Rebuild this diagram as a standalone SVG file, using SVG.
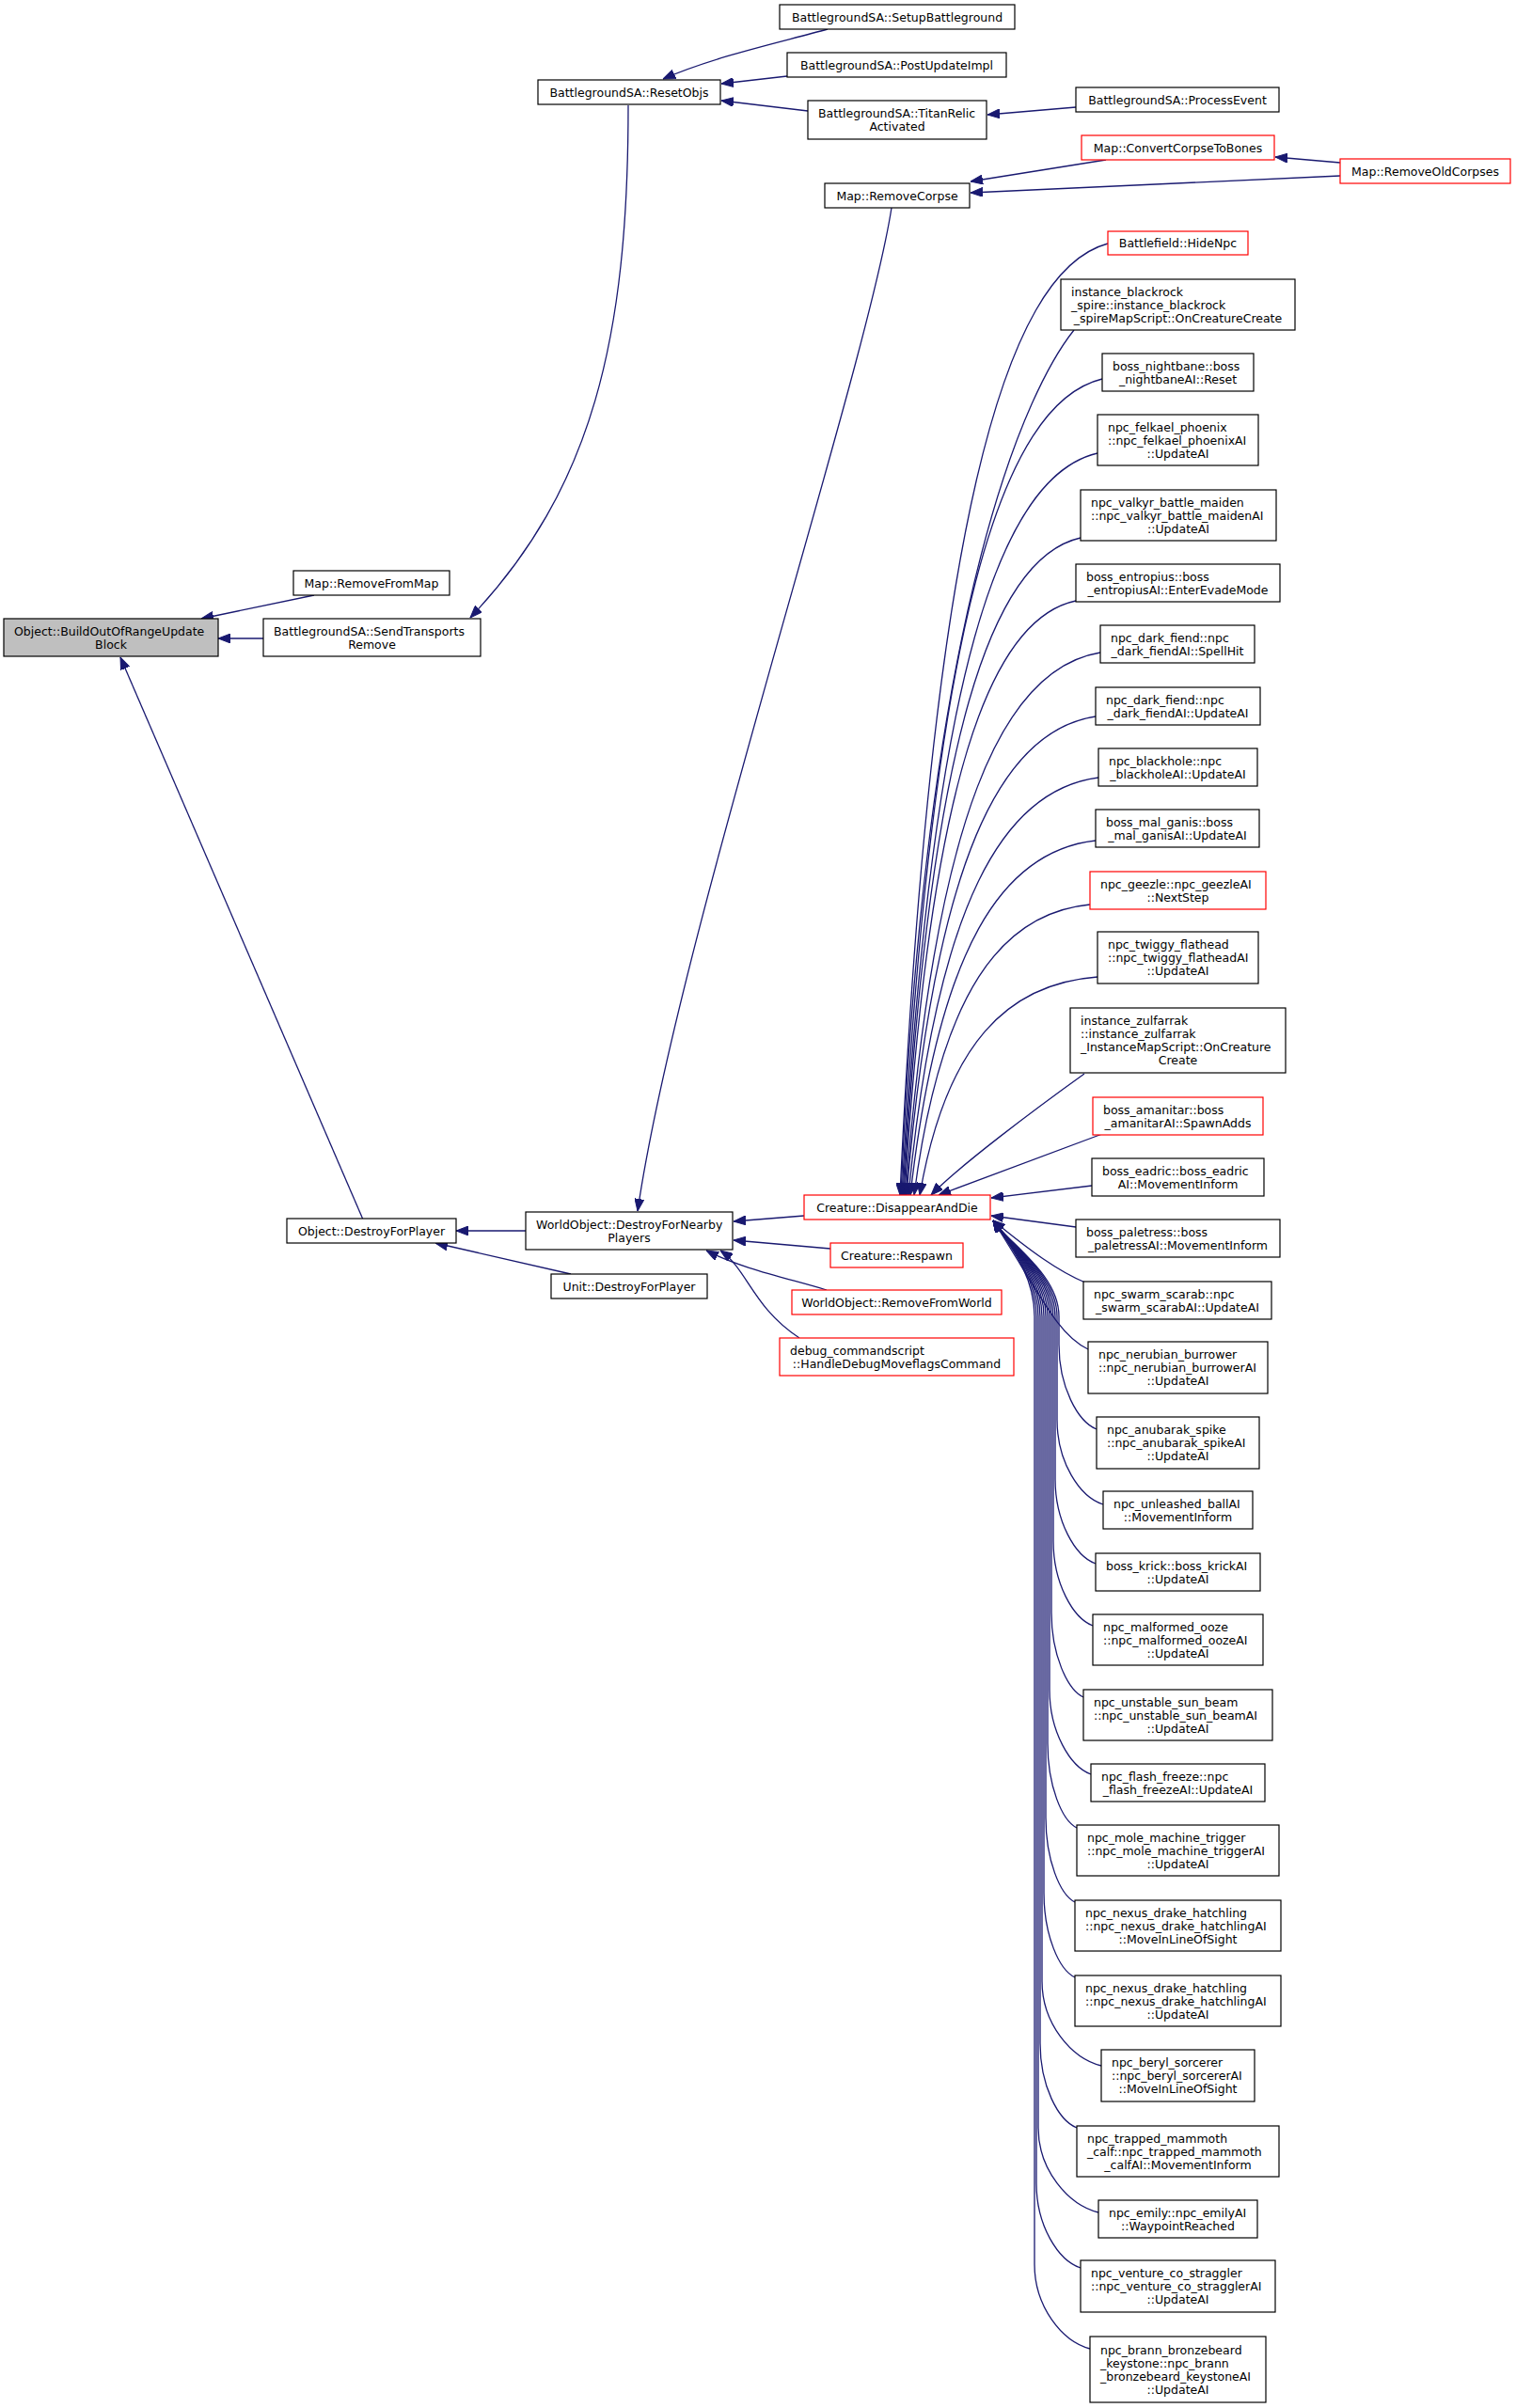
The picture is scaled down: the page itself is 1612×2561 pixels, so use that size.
<svg xmlns="http://www.w3.org/2000/svg" width="1612" height="2561" viewBox="0 0 1612 2561">
<style>
.n rect{fill:#fff;stroke:#000;stroke-width:1.2}
.r rect{stroke:#f00}
.g rect{fill:#bfbfbf}
text{font-family:"DejaVu Sans","Liberation Sans",sans-serif;font-size:12.5px;fill:#000}
.m{text-anchor:middle}
#edges path{fill:none;stroke:#191970;stroke-width:1.3;marker-end:url(#ah)}
</style>
<defs>
<marker id="ah" markerUnits="userSpaceOnUse" markerWidth="13" markerHeight="10" refX="13" refY="5" orient="auto"><path d="M0,0 L13,5 L0,10 z" fill="#191970" stroke="#191970" stroke-width="1"/></marker>
</defs>
<rect width="1612" height="2561" fill="#fff"/>
<g id="edges">
<path d="M334,633 L214,658"/>
<path d="M280,679 L232,679"/>
<path d="M668,112 C668,360 630,520 500,657"/>
<path d="M386,1297 L128,699"/>
<path d="M559,1309 L485,1309"/>
<path d="M607,1355 L463,1322"/>
<path d="M948,221 C920,400 720,1000 678,1288"/>
<path d="M855,1293 L780,1299"/>
<path d="M883,1328 L780,1319"/>
<path d="M879,1372 C840,1360 790,1350 751,1330"/>
<path d="M850,1423 C800,1390 795,1350 766,1330"/>
<path d="M880,31 C830,45 760,60 705,84"/>
<path d="M837,81 L767,89"/>
<path d="M859,118 L767,107"/>
<path d="M1144,114 L1050,122"/>
<path d="M1176,170 L1032,193"/>
<path d="M1425,173 L1356,167"/>
<path d="M1425,187 L1032,205"/>
<path d="M1178,259 C1067,289 990,563 957,1271"/>
<path d="M1142,351 C1095,410 986,627 958,1271"/>
<path d="M1172,403 C1065,429 991,663 959,1271"/>
<path d="M1167,482 C1063,506 991,719 960,1271"/>
<path d="M1149,572 C1055,593 989,782 961,1271"/>
<path d="M1144,639 C1053,658 989,829 962,1271"/>
<path d="M1170,694 C1066,711 994,867 963,1271"/>
<path d="M1165,762 C1064,777 994,915 964,1271"/>
<path d="M1168,827 C1067,840 996,960 966,1271"/>
<path d="M1165,894 C1066,905 998,1007 968,1271"/>
<path d="M1159,962 C1065,971 1000,1055 972,1271"/>
<path d="M1167,1039 C1072,1046 1006,1109 978,1271"/>
<path d="M1153,1142 C1100,1180 1020,1240 990,1271"/>
<path d="M1172,1206 L998,1271"/>
<path d="M1161,1261 L1054,1274"/>
<path d="M1144,1305 L1054,1293"/>
<path d="M1154,1364 C1125,1352 1095,1330 1056,1298"/>
<path d="M1157,1435 C1125,1420 1108,1380 1056,1298"/>
<path d="M1166,1520 C1146,1512 1126,1475 1126,1430 L1126,1400 C1126,1355 1072,1322 1056,1298"/>
<path d="M1173,1600 C1148,1592 1124,1555 1124,1510 L1124,1400 C1124,1355 1072,1322 1056,1298"/>
<path d="M1165,1663 C1143,1655 1122,1618 1122,1573 L1122,1400 C1122,1355 1072,1322 1056,1298"/>
<path d="M1162,1729 C1141,1721 1120,1684 1120,1639 L1120,1400 C1120,1355 1072,1322 1056,1298"/>
<path d="M1152,1805 C1135,1797 1118,1760 1118,1715 L1118,1400 C1118,1355 1072,1322 1056,1298"/>
<path d="M1160,1887 C1138,1879 1116,1842 1116,1797 L1116,1400 C1116,1355 1072,1322 1056,1298"/>
<path d="M1145,1944 C1129,1936 1114,1899 1114,1854 L1114,1400 C1114,1355 1072,1322 1056,1298"/>
<path d="M1143,2023 C1127,2015 1112,1978 1112,1933 L1112,1400 C1112,1355 1072,1322 1056,1298"/>
<path d="M1143,2103 C1126,2095 1110,2058 1110,2013 L1110,1400 C1110,1355 1072,1322 1056,1298"/>
<path d="M1171,2197 C1139,2189 1108,2152 1108,2107 L1108,1400 C1108,1355 1072,1322 1056,1298"/>
<path d="M1145,2263 C1125,2255 1106,2218 1106,2173 L1106,1400 C1106,1355 1072,1322 1056,1298"/>
<path d="M1168,2353 C1136,2345 1104,2308 1104,2263 L1104,1400 C1104,1355 1072,1322 1056,1298"/>
<path d="M1149,2412 C1125,2404 1102,2367 1102,2322 L1102,1400 C1102,1355 1072,1322 1056,1298"/>
<path d="M1159,2498 C1129,2490 1100,2453 1100,2408 L1100,1400 C1100,1355 1072,1322 1056,1298"/>
</g>
<g id="n_build" class="n g"><rect x="4" y="658" width="228" height="40"/><text x="15" y="675.5">Object::BuildOutOfRangeUpdate</text><text class="m" x="118" y="689.5">Block</text></g>
<g id="n_removefrommap" class="n"><rect x="312" y="607" width="166" height="26"/><text class="m" x="395" y="624.5">Map::RemoveFromMap</text></g>
<g id="n_sendtransports" class="n"><rect x="280" y="658" width="231" height="40"/><text x="291" y="675.5">BattlegroundSA::SendTransports</text><text class="m" x="395.5" y="689.5">Remove</text></g>
<g id="n_destroyforplayer" class="n"><rect x="305" y="1296" width="180" height="26"/><text class="m" x="395" y="1313.5">Object::DestroyForPlayer</text></g>
<g id="n_destroyfornearby" class="n"><rect x="559" y="1289" width="220" height="40"/><text x="570" y="1306.5">WorldObject::DestroyForNearby</text><text class="m" x="669" y="1320.5">Players</text></g>
<g id="n_unitdestroy" class="n"><rect x="586" y="1355" width="166" height="26"/><text class="m" x="669" y="1372.5">Unit::DestroyForPlayer</text></g>
<g id="n_resetobjs" class="n"><rect x="572" y="85" width="194" height="26"/><text class="m" x="669" y="102.5">BattlegroundSA::ResetObjs</text></g>
<g id="n_setup" class="n"><rect x="829" y="5" width="250" height="26"/><text class="m" x="954" y="22.5">BattlegroundSA::SetupBattleground</text></g>
<g id="n_postupdate" class="n"><rect x="837" y="56" width="233" height="26"/><text class="m" x="953.5" y="73.5">BattlegroundSA::PostUpdateImpl</text></g>
<g id="n_titanrelic" class="n"><rect x="859" y="107" width="190" height="41"/><text x="870" y="125">BattlegroundSA::TitanRelic</text><text class="m" x="954" y="139">Activated</text></g>
<g id="n_processevent" class="n"><rect x="1144" y="93" width="216" height="26"/><text class="m" x="1252" y="110.5">BattlegroundSA::ProcessEvent</text></g>
<g id="n_convertcorpse" class="n r"><rect x="1150" y="144" width="205" height="26"/><text class="m" x="1252.5" y="161.5">Map::ConvertCorpseToBones</text></g>
<g id="n_removeoldcorpses" class="n r"><rect x="1425" y="169" width="181" height="26"/><text class="m" x="1515.5" y="186.5">Map::RemoveOldCorpses</text></g>
<g id="n_removecorpse" class="n"><rect x="877" y="195" width="154" height="26"/><text class="m" x="954" y="212.5">Map::RemoveCorpse</text></g>
<g id="n_disappear" class="n r"><rect x="855" y="1271" width="198" height="26"/><text class="m" x="954" y="1288.5">Creature::DisappearAndDie</text></g>
<g id="n_respawn" class="n r"><rect x="883" y="1322" width="141" height="26"/><text class="m" x="953.5" y="1339.5">Creature::Respawn</text></g>
<g id="n_removefromworld" class="n r"><rect x="842" y="1372" width="223" height="26"/><text class="m" x="953.5" y="1389.5">WorldObject::RemoveFromWorld</text></g>
<g id="n_debug" class="n r"><rect x="829" y="1423" width="249" height="40"/><text x="840" y="1440.5">debug_commandscript</text><text class="m" x="953.5" y="1454.5">::HandleDebugMoveflagsCommand</text></g>
<g id="n_hidenpc" class="n r"><rect x="1178" y="246" width="149" height="25"/><text class="m" x="1252.5" y="263">Battlefield::HideNpc</text></g>
<g id="n_blackrock" class="n"><rect x="1128" y="297" width="249" height="54"/><text x="1139" y="314.5">instance_blackrock</text><text x="1139" y="328.5">_spire::instance_blackrock</text><text class="m" x="1252.5" y="342.5">_spireMapScript::OnCreatureCreate</text></g>
<g id="n_nightbane" class="n"><rect x="1172" y="376" width="161" height="40"/><text x="1183" y="393.5">boss_nightbane::boss</text><text class="m" x="1252.5" y="407.5">_nightbaneAI::Reset</text></g>
<g id="n_felkael" class="n"><rect x="1167" y="441" width="171" height="54"/><text x="1178" y="458.5">npc_felkael_phoenix</text><text x="1178" y="472.5">::npc_felkael_phoenixAI</text><text class="m" x="1252.5" y="486.5">::UpdateAI</text></g>
<g id="n_valkyr" class="n"><rect x="1149" y="521" width="208" height="54"/><text x="1160" y="538.5">npc_valkyr_battle_maiden</text><text x="1160" y="552.5">::npc_valkyr_battle_maidenAI</text><text class="m" x="1253" y="566.5">::UpdateAI</text></g>
<g id="n_entropius" class="n"><rect x="1144" y="600" width="217" height="40"/><text x="1155" y="617.5">boss_entropius::boss</text><text class="m" x="1252.5" y="631.5">_entropiusAI::EnterEvadeMode</text></g>
<g id="n_darkfiend1" class="n"><rect x="1170" y="665" width="164" height="40"/><text x="1181" y="682.5">npc_dark_fiend::npc</text><text class="m" x="1252" y="696.5">_dark_fiendAI::SpellHit</text></g>
<g id="n_darkfiend2" class="n"><rect x="1165" y="731" width="175" height="40"/><text x="1176" y="748.5">npc_dark_fiend::npc</text><text class="m" x="1252.5" y="762.5">_dark_fiendAI::UpdateAI</text></g>
<g id="n_blackhole" class="n"><rect x="1168" y="796" width="169" height="40"/><text x="1179" y="813.5">npc_blackhole::npc</text><text class="m" x="1252.5" y="827.5">_blackholeAI::UpdateAI</text></g>
<g id="n_malganis" class="n"><rect x="1165" y="861" width="174" height="40"/><text x="1176" y="878.5">boss_mal_ganis::boss</text><text class="m" x="1252" y="892.5">_mal_ganisAI::UpdateAI</text></g>
<g id="n_geezle" class="n r"><rect x="1159" y="927" width="187" height="40"/><text x="1170" y="944.5">npc_geezle::npc_geezleAI</text><text class="m" x="1252.5" y="958.5">::NextStep</text></g>
<g id="n_twiggy" class="n"><rect x="1167" y="991" width="171" height="55"/><text x="1178" y="1009">npc_twiggy_flathead</text><text x="1178" y="1023">::npc_twiggy_flatheadAI</text><text class="m" x="1252.5" y="1037">::UpdateAI</text></g>
<g id="n_zulfarrak" class="n"><rect x="1138" y="1072" width="229" height="69"/><text x="1149" y="1090">instance_zulfarrak</text><text x="1149" y="1104">::instance_zulfarrak</text><text x="1149" y="1118">_InstanceMapScript::OnCreature</text><text class="m" x="1252.5" y="1132">Create</text></g>
<g id="n_amanitar" class="n r"><rect x="1162" y="1167" width="181" height="40"/><text x="1173" y="1184.5">boss_amanitar::boss</text><text class="m" x="1252.5" y="1198.5">_amanitarAI::SpawnAdds</text></g>
<g id="n_eadric" class="n"><rect x="1161" y="1232" width="183" height="40"/><text x="1172" y="1249.5">boss_eadric::boss_eadric</text><text class="m" x="1252.5" y="1263.5">AI::MovementInform</text></g>
<g id="n_paletress" class="n"><rect x="1144" y="1297" width="217" height="40"/><text x="1155" y="1314.5">boss_paletress::boss</text><text class="m" x="1252.5" y="1328.5">_paletressAI::MovementInform</text></g>
<g id="n_swarm" class="n"><rect x="1152" y="1363" width="200" height="40"/><text x="1163" y="1380.5">npc_swarm_scarab::npc</text><text class="m" x="1252" y="1394.5">_swarm_scarabAI::UpdateAI</text></g>
<g id="n_nerubian" class="n"><rect x="1157" y="1427" width="191" height="55"/><text x="1168" y="1445">npc_nerubian_burrower</text><text x="1168" y="1459">::npc_nerubian_burrowerAI</text><text class="m" x="1252.5" y="1473">::UpdateAI</text></g>
<g id="n_anubarak" class="n"><rect x="1166" y="1507" width="173" height="55"/><text x="1177" y="1525">npc_anubarak_spike</text><text x="1177" y="1539">::npc_anubarak_spikeAI</text><text class="m" x="1252.5" y="1553">::UpdateAI</text></g>
<g id="n_unleashed" class="n"><rect x="1173" y="1586" width="159" height="40"/><text x="1184" y="1603.5">npc_unleashed_ballAI</text><text class="m" x="1252.5" y="1617.5">::MovementInform</text></g>
<g id="n_krick" class="n"><rect x="1165" y="1652" width="175" height="40"/><text x="1176" y="1669.5">boss_krick::boss_krickAI</text><text class="m" x="1252.5" y="1683.5">::UpdateAI</text></g>
<g id="n_malformed" class="n"><rect x="1162" y="1717" width="181" height="54"/><text x="1173" y="1734.5">npc_malformed_ooze</text><text x="1173" y="1748.5">::npc_malformed_oozeAI</text><text class="m" x="1252.5" y="1762.5">::UpdateAI</text></g>
<g id="n_unstable" class="n"><rect x="1152" y="1797" width="201" height="54"/><text x="1163" y="1814.5">npc_unstable_sun_beam</text><text x="1163" y="1828.5">::npc_unstable_sun_beamAI</text><text class="m" x="1252.5" y="1842.5">::UpdateAI</text></g>
<g id="n_flash" class="n"><rect x="1160" y="1876" width="185" height="40"/><text x="1171" y="1893.5">npc_flash_freeze::npc</text><text class="m" x="1252.5" y="1907.5">_flash_freezeAI::UpdateAI</text></g>
<g id="n_mole" class="n"><rect x="1145" y="1941" width="215" height="54"/><text x="1156" y="1958.5">npc_mole_machine_trigger</text><text x="1156" y="1972.5">::npc_mole_machine_triggerAI</text><text class="m" x="1252.5" y="1986.5">::UpdateAI</text></g>
<g id="n_nexus1" class="n"><rect x="1143" y="2021" width="219" height="54"/><text x="1154" y="2038.5">npc_nexus_drake_hatchling</text><text x="1154" y="2052.5">::npc_nexus_drake_hatchlingAI</text><text class="m" x="1252.5" y="2066.5">::MoveInLineOfSight</text></g>
<g id="n_nexus2" class="n"><rect x="1143" y="2101" width="219" height="54"/><text x="1154" y="2118.5">npc_nexus_drake_hatchling</text><text x="1154" y="2132.5">::npc_nexus_drake_hatchlingAI</text><text class="m" x="1252.5" y="2146.5">::UpdateAI</text></g>
<g id="n_beryl" class="n"><rect x="1171" y="2180" width="163" height="55"/><text x="1182" y="2198">npc_beryl_sorcerer</text><text x="1182" y="2212">::npc_beryl_sorcererAI</text><text class="m" x="1252.5" y="2226">::MoveInLineOfSight</text></g>
<g id="n_mammoth" class="n"><rect x="1145" y="2261" width="215" height="54"/><text x="1156" y="2278.5">npc_trapped_mammoth</text><text x="1156" y="2292.5">_calf::npc_trapped_mammoth</text><text class="m" x="1252.5" y="2306.5">_calfAI::MovementInform</text></g>
<g id="n_emily" class="n"><rect x="1168" y="2340" width="169" height="40"/><text x="1179" y="2357.5">npc_emily::npc_emilyAI</text><text class="m" x="1252.5" y="2371.5">::WaypointReached</text></g>
<g id="n_venture" class="n"><rect x="1149" y="2404" width="207" height="55"/><text x="1160" y="2422">npc_venture_co_straggler</text><text x="1160" y="2436">::npc_venture_co_stragglerAI</text><text class="m" x="1252.5" y="2450">::UpdateAI</text></g>
<g id="n_brann" class="n"><rect x="1159" y="2485" width="187" height="70"/><text x="1170" y="2503.5">npc_brann_bronzebeard</text><text x="1170" y="2517.5">_keystone::npc_brann</text><text x="1170" y="2531.5">_bronzebeard_keystoneAI</text><text class="m" x="1252.5" y="2545.5">::UpdateAI</text></g>
</svg>
